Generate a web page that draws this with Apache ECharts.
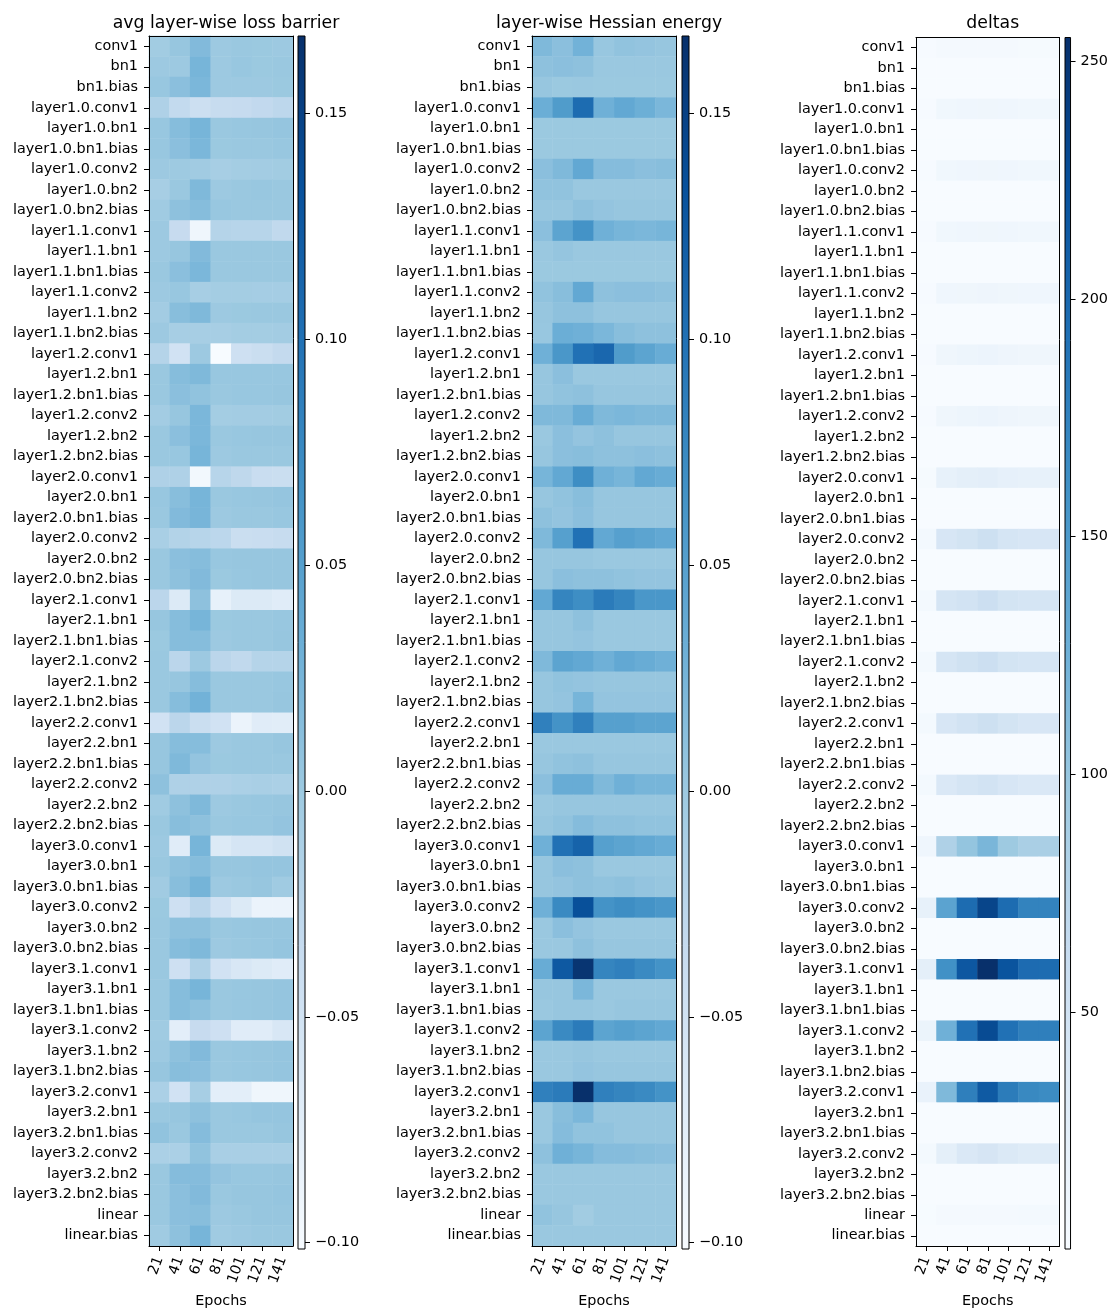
<!DOCTYPE html>
<html>
<head>
<meta charset="utf-8">
<script src="https://cdn.jsdelivr.net/npm/echarts@6/dist/echarts.min.js"></script>
<style>
  html, body { margin: 0; padding: 0; background: #fff; }
  #chart { width: 1111px; height: 1313px; }
</style>
</head>
<body>
<div id="chart"></div>
<script>
// Parameter groups of the network (rows, top to bottom)
const layers = [
  'conv1', 'bn1', 'bn1.bias',
  'layer1.0.conv1', 'layer1.0.bn1', 'layer1.0.bn1.bias', 'layer1.0.conv2', 'layer1.0.bn2', 'layer1.0.bn2.bias',
  'layer1.1.conv1', 'layer1.1.bn1', 'layer1.1.bn1.bias', 'layer1.1.conv2', 'layer1.1.bn2', 'layer1.1.bn2.bias',
  'layer1.2.conv1', 'layer1.2.bn1', 'layer1.2.bn1.bias', 'layer1.2.conv2', 'layer1.2.bn2', 'layer1.2.bn2.bias',
  'layer2.0.conv1', 'layer2.0.bn1', 'layer2.0.bn1.bias', 'layer2.0.conv2', 'layer2.0.bn2', 'layer2.0.bn2.bias',
  'layer2.1.conv1', 'layer2.1.bn1', 'layer2.1.bn1.bias', 'layer2.1.conv2', 'layer2.1.bn2', 'layer2.1.bn2.bias',
  'layer2.2.conv1', 'layer2.2.bn1', 'layer2.2.bn1.bias', 'layer2.2.conv2', 'layer2.2.bn2', 'layer2.2.bn2.bias',
  'layer3.0.conv1', 'layer3.0.bn1', 'layer3.0.bn1.bias', 'layer3.0.conv2', 'layer3.0.bn2', 'layer3.0.bn2.bias',
  'layer3.1.conv1', 'layer3.1.bn1', 'layer3.1.bn1.bias', 'layer3.1.conv2', 'layer3.1.bn2', 'layer3.1.bn2.bias',
  'layer3.2.conv1', 'layer3.2.bn1', 'layer3.2.bn1.bias', 'layer3.2.conv2', 'layer3.2.bn2', 'layer3.2.bn2.bias',
  'linear', 'linear.bias'
];

// Checkpoints (columns)
const epochs = ['21', '41', '61', '81', '101', '121', '141'];

// Average layer-wise loss barrier, one row per parameter group
const lossBarrier = [
  [-0.004, 0.004, 0.018, 0.000, 0.002, 0.001, 0.000],
  [ 0.000, 0.000, 0.025, 0.000, 0.003, 0.001, 0.002],
  [ 0.003, 0.012, 0.022, 0.000, 0.000, 0.000, 0.001],
  [-0.015, -0.032, -0.042, -0.036, -0.034, -0.031, -0.027],
  [ 0.003, 0.015, 0.025, 0.002, 0.003, 0.004, 0.005],
  [ 0.003, 0.012, 0.022, 0.001, 0.002, 0.002, 0.003],
  [ 0.000, -0.001, -0.003, -0.008, -0.006, -0.005, -0.004],
  [-0.008, 0.002, 0.020, 0.000, 0.002, 0.003, 0.002],
  [-0.002, 0.010, 0.015, 0.003, 0.002, 0.002, 0.002],
  [ 0.000, -0.035, -0.090, -0.020, -0.022, -0.022, -0.030],
  [ 0.000, 0.004, 0.018, 0.002, 0.002, 0.002, 0.002],
  [ 0.002, 0.012, 0.022, 0.002, 0.002, 0.002, 0.002],
  [ 0.000, 0.003, -0.008, -0.006, -0.006, -0.007, -0.007],
  [-0.005, 0.014, 0.020, 0.000, 0.001, 0.002, 0.002],
  [ 0.000, -0.008, -0.008, -0.008, -0.006, -0.006, -0.005],
  [-0.020, -0.050, 0.000, -0.1014, -0.045, -0.040, -0.033],
  [ 0.002, 0.015, 0.020, 0.003, 0.003, 0.003, 0.003],
  [ 0.002, 0.012, 0.008, 0.002, 0.003, 0.003, 0.004],
  [-0.005, 0.004, 0.022, -0.006, -0.005, -0.005, -0.004],
  [ 0.002, 0.012, 0.022, 0.002, 0.003, 0.004, 0.004],
  [ 0.002, 0.003, 0.025, 0.000, 0.002, 0.002, 0.002],
  [-0.015, -0.015, -0.095, -0.022, -0.028, -0.038, -0.040],
  [ 0.003, 0.014, 0.025, 0.002, 0.003, 0.004, 0.005],
  [ 0.002, 0.018, 0.024, 0.000, 0.002, 0.002, 0.003],
  [-0.010, -0.018, -0.022, -0.026, -0.040, -0.038, -0.036],
  [ 0.002, 0.012, 0.015, 0.003, 0.004, 0.004, 0.004],
  [ 0.002, 0.010, 0.018, 0.001, 0.003, 0.004, 0.004],
  [-0.025, -0.065, 0.010, -0.080, -0.065, -0.065, -0.070],
  [ 0.004, 0.015, 0.025, 0.001, 0.002, 0.002, 0.003],
  [ 0.001, 0.015, 0.015, 0.000, 0.002, 0.002, 0.004],
  [ 0.002, -0.025, 0.000, -0.025, -0.030, -0.020, -0.020],
  [ 0.002, 0.004, 0.015, 0.002, 0.002, 0.002, 0.003],
  [ 0.002, 0.015, 0.028, 0.002, 0.002, 0.002, 0.004],
  [-0.050, -0.025, -0.040, -0.050, -0.085, -0.070, -0.072],
  [ 0.004, 0.015, 0.015, 0.000, 0.002, 0.002, 0.004],
  [ 0.004, 0.020, 0.006, 0.001, 0.002, 0.002, 0.002],
  [ 0.010, -0.015, -0.015, -0.015, -0.012, -0.010, -0.012],
  [-0.002, 0.010, 0.020, 0.000, 0.002, 0.003, 0.004],
  [ 0.002, 0.014, 0.010, 0.002, 0.003, 0.003, 0.006],
  [ 0.000, -0.070, 0.025, -0.065, -0.055, -0.055, -0.048],
  [ 0.002, 0.010, 0.015, 0.004, 0.004, 0.005, 0.005],
  [-0.003, 0.014, 0.026, 0.000, 0.002, 0.004, -0.002],
  [ 0.001, -0.045, -0.025, -0.050, -0.065, -0.085, -0.085],
  [ 0.002, 0.010, 0.010, 0.002, 0.003, 0.004, 0.004],
  [ 0.002, 0.015, 0.020, 0.000, 0.002, 0.003, 0.005],
  [ 0.002, -0.045, -0.015, -0.050, -0.060, -0.065, -0.070],
  [ 0.002, 0.015, 0.025, 0.002, 0.003, 0.004, 0.005],
  [ 0.002, 0.015, 0.010, 0.002, 0.003, 0.004, 0.005],
  [-0.002, -0.075, -0.035, -0.045, -0.070, -0.070, -0.060],
  [ 0.000, 0.010, 0.018, 0.002, 0.003, 0.004, 0.005],
  [ 0.004, 0.014, 0.012, 0.002, 0.003, 0.004, 0.005],
  [-0.012, -0.050, -0.008, -0.075, -0.075, -0.090, -0.090],
  [ 0.002, 0.004, 0.010, 0.002, 0.003, 0.005, 0.005],
  [ 0.008, 0.002, 0.016, 0.002, 0.002, 0.002, 0.004],
  [-0.012, -0.012, 0.008, -0.010, -0.010, -0.010, -0.010],
  [ 0.002, 0.016, 0.016, 0.006, 0.003, 0.003, 0.004],
  [ 0.002, 0.012, 0.018, 0.002, 0.004, 0.004, 0.005],
  [ 0.002, 0.012, 0.014, 0.000, 0.002, 0.004, 0.004],
  [-0.002, 0.010, 0.025, -0.002, 0.000, 0.002, 0.002]
];

// Layer-wise Hessian energy, one row per parameter group
const hessianEnergy = [
  [0.020, 0.012, 0.028, 0.003, 0.008, 0.006, 0.004],
  [0.010, 0.012, 0.010, 0.002, 0.002, 0.002, 0.002],
  [0.004, 0.001, 0.002, 0.001, 0.001, 0.001, 0.001],
  [0.033, 0.055, 0.105, 0.030, 0.040, 0.032, 0.022],
  [0.001, 0.001, 0.001, 0.001, 0.001, 0.001, 0.001],
  [0.001, 0.001, 0.001, 0.001, 0.001, 0.001, 0.001],
  [0.012, 0.020, 0.040, 0.016, 0.016, 0.012, 0.014],
  [0.008, 0.008, 0.002, 0.002, 0.002, 0.002, 0.002],
  [0.004, 0.004, 0.010, 0.006, 0.004, 0.004, 0.004],
  [0.012, 0.045, 0.065, 0.030, 0.025, 0.022, 0.025],
  [0.002, 0.005, 0.002, 0.002, 0.002, 0.002, 0.002],
  [0.001, 0.001, 0.001, 0.001, 0.001, 0.001, 0.001],
  [0.008, 0.014, 0.040, 0.010, 0.012, 0.012, 0.010],
  [0.004, 0.010, 0.010, 0.004, 0.004, 0.004, 0.004],
  [0.003, 0.033, 0.030, 0.022, 0.014, 0.010, 0.010],
  [0.030, 0.060, 0.100, 0.110, 0.055, 0.045, 0.035],
  [0.004, 0.012, 0.002, 0.002, 0.002, 0.002, 0.002],
  [0.004, 0.008, 0.010, 0.004, 0.004, 0.004, 0.004],
  [0.020, 0.020, 0.035, 0.020, 0.022, 0.020, 0.020],
  [0.002, 0.012, 0.006, 0.010, 0.004, 0.004, 0.004],
  [0.004, 0.012, 0.014, 0.010, 0.010, 0.012, 0.010],
  [0.025, 0.040, 0.070, 0.030, 0.025, 0.040, 0.035],
  [0.004, 0.008, 0.014, 0.004, 0.004, 0.004, 0.004],
  [0.010, 0.006, 0.012, 0.004, 0.004, 0.004, 0.004],
  [0.020, 0.050, 0.100, 0.040, 0.050, 0.045, 0.040],
  [0.004, 0.004, 0.004, 0.002, 0.002, 0.002, 0.002],
  [0.004, 0.012, 0.010, 0.010, 0.008, 0.006, 0.006],
  [0.040, 0.080, 0.070, 0.090, 0.080, 0.060, 0.060],
  [0.004, 0.004, 0.010, 0.002, 0.002, 0.002, 0.002],
  [0.004, 0.004, 0.006, 0.002, 0.002, 0.002, 0.002],
  [0.020, 0.045, 0.040, 0.030, 0.040, 0.035, 0.030],
  [0.004, 0.008, 0.006, 0.004, 0.004, 0.004, 0.004],
  [0.004, 0.006, 0.025, 0.006, 0.006, 0.006, 0.006],
  [0.085, 0.065, 0.085, 0.050, 0.050, 0.045, 0.045],
  [0.002, 0.002, 0.002, 0.002, 0.002, 0.002, 0.002],
  [0.004, 0.008, 0.010, 0.004, 0.004, 0.004, 0.004],
  [0.012, 0.035, 0.035, 0.020, 0.030, 0.025, 0.025],
  [0.002, 0.004, 0.004, 0.004, 0.004, 0.004, 0.004],
  [0.004, 0.008, 0.016, 0.010, 0.010, 0.008, 0.008],
  [0.030, 0.100, 0.115, 0.050, 0.045, 0.040, 0.035],
  [0.004, 0.012, 0.010, 0.002, 0.002, 0.002, 0.002],
  [0.004, 0.006, 0.010, 0.008, 0.010, 0.006, 0.004],
  [0.030, 0.075, 0.135, 0.065, 0.070, 0.065, 0.060],
  [0.002, 0.012, 0.006, 0.002, 0.002, 0.002, 0.002],
  [0.002, 0.002, 0.010, 0.004, 0.004, 0.004, 0.004],
  [0.035, 0.125, 0.162, 0.080, 0.085, 0.075, 0.065],
  [0.004, 0.004, 0.022, 0.002, 0.002, 0.002, 0.002],
  [0.002, 0.004, 0.004, 0.002, 0.004, 0.004, 0.004],
  [0.045, 0.075, 0.090, 0.045, 0.050, 0.045, 0.040],
  [0.002, 0.002, 0.004, 0.002, 0.002, 0.002, 0.002],
  [0.002, 0.002, 0.006, 0.004, 0.004, 0.004, 0.004],
  [0.085, 0.090, 0.1671, 0.085, 0.080, 0.075, 0.065],
  [0.002, 0.014, 0.022, 0.004, 0.004, 0.004, 0.004],
  [0.002, 0.016, 0.008, 0.008, 0.004, 0.004, 0.004],
  [0.010, 0.030, 0.025, 0.016, 0.016, 0.014, 0.012],
  [0.002, 0.002, 0.002, 0.002, 0.002, 0.002, 0.002],
  [0.002, 0.002, 0.002, 0.002, 0.002, 0.002, 0.002],
  [0.008, 0.004, -0.004, 0.002, 0.002, 0.002, 0.002],
  [0.002, 0.002, 0.002, 0.002, 0.002, 0.002, 0.002]
];

// Parameter deltas, one row per parameter group
const deltas = [
  [1.5, 4, 4, 4, 4, 3, 3],
  [0.3, 0.3, 0.3, 0.3, 0.3, 0.3, 0.3],
  [0.2, 0.3, 0.3, 0.3, 0.3, 0.3, 0.3],
  [2, 9, 10, 11, 10, 9, 9],
  [0.4, 0.5, 0.5, 0.5, 0.5, 0.5, 0.5],
  [0.3, 0.4, 0.4, 0.4, 0.4, 0.4, 0.4],
  [2, 9, 10, 11, 10, 9, 9],
  [0.4, 0.5, 0.5, 0.5, 0.5, 0.5, 0.5],
  [0.3, 0.4, 0.4, 0.4, 0.4, 0.4, 0.4],
  [2, 9, 10, 11, 10, 9, 9],
  [0.4, 0.5, 0.5, 0.5, 0.5, 0.5, 0.5],
  [0.3, 0.4, 0.4, 0.4, 0.4, 0.4, 0.4],
  [2, 10, 11, 12, 11, 10, 10],
  [0.4, 0.5, 0.5, 0.5, 0.5, 0.5, 0.5],
  [0.3, 0.4, 0.4, 0.4, 0.4, 0.4, 0.4],
  [2, 11, 13, 14, 12, 11, 11],
  [0.4, 0.5, 0.5, 0.5, 0.5, 0.5, 0.5],
  [0.3, 0.4, 0.4, 0.4, 0.4, 0.4, 0.4],
  [2, 11, 13, 14, 12, 11, 11],
  [0.4, 0.5, 0.5, 0.5, 0.5, 0.5, 0.5],
  [0.3, 0.4, 0.4, 0.4, 0.4, 0.4, 0.4],
  [3, 20, 24, 26, 22, 20, 20],
  [0.4, 0.6, 0.6, 0.6, 0.6, 0.6, 0.6],
  [0.3, 0.4, 0.4, 0.4, 0.4, 0.4, 0.4],
  [5, 42, 46, 54, 44, 42, 42],
  [0.4, 0.6, 0.6, 0.6, 0.6, 0.6, 0.6],
  [0.3, 0.4, 0.4, 0.4, 0.4, 0.4, 0.4],
  [5, 44, 48, 56, 46, 44, 44],
  [0.4, 0.6, 0.6, 0.6, 0.6, 0.6, 0.6],
  [0.3, 0.4, 0.4, 0.4, 0.4, 0.4, 0.4],
  [5, 44, 50, 56, 46, 44, 44],
  [0.4, 0.6, 0.6, 0.6, 0.6, 0.6, 0.6],
  [0.3, 0.4, 0.4, 0.4, 0.4, 0.4, 0.4],
  [5, 42, 48, 54, 46, 42, 42],
  [0.4, 0.6, 0.6, 0.6, 0.6, 0.6, 0.6],
  [0.3, 0.4, 0.4, 0.4, 0.4, 0.4, 0.4],
  [5, 38, 44, 48, 42, 38, 38],
  [0.4, 0.6, 0.6, 0.6, 0.6, 0.6, 0.6],
  [0.3, 0.4, 0.4, 0.4, 0.4, 0.4, 0.4],
  [10, 82, 102, 118, 96, 86, 86],
  [0.5, 0.8, 0.8, 0.8, 0.8, 0.8, 0.8],
  [0.3, 0.5, 0.5, 0.5, 0.5, 0.5, 0.5],
  [20, 140, 196, 235, 196, 174, 174],
  [0.5, 0.8, 0.8, 0.8, 0.8, 0.8, 0.8],
  [0.3, 0.5, 0.5, 0.5, 0.5, 0.5, 0.5],
  [25, 160, 217, 255, 220, 197, 196],
  [0.5, 0.8, 0.8, 0.8, 0.8, 0.8, 0.8],
  [0.3, 0.5, 0.5, 0.5, 0.5, 0.5, 0.5],
  [15, 125, 191, 229, 191, 178, 178],
  [0.5, 0.8, 0.8, 0.8, 0.8, 0.8, 0.8],
  [0.3, 0.5, 0.5, 0.5, 0.5, 0.5, 0.5],
  [18, 115, 178, 214, 181, 168, 165],
  [0.5, 0.8, 0.8, 0.8, 0.8, 0.8, 0.8],
  [0.3, 0.5, 0.5, 0.5, 0.5, 0.5, 0.5],
  [5, 25, 38, 43, 36, 32, 32],
  [0.5, 0.8, 0.8, 0.8, 0.8, 0.8, 0.8],
  [0.3, 0.5, 0.5, 0.5, 0.5, 0.5, 0.5],
  [1, 4, 4, 4, 4, 5, 5],
  [0.3, 0.4, 0.4, 0.4, 0.4, 0.4, 0.4]
];

// Colorbar tick labels
const barrierTicks = [-0.10, -0.05, 0.00, 0.05, 0.10, 0.15];
const deltaTicks = [50, 100, 150, 200, 250];

// Sequential "Blues" palette
const BLUES = ['#f7fbff', '#deebf7', '#c6dbef', '#9ecae1', '#6baed6', '#4292c6', '#2171b5', '#08519c', '#08306b'];

const FONT = 'DejaVu Sans';
const TEXT = '#000';
const LABEL_SIZE = 14.4;

function extentOf(...mats) {
  let lo = Infinity, hi = -Infinity;
  mats.forEach(m => m.forEach(row => row.forEach(v => { lo = Math.min(lo, v); hi = Math.max(hi, v); })));
  return [lo, hi];
}

// The barrier and Hessian panels share one colour scale
const sharedRange = extentOf(lossBarrier, hessianEnergy);
const deltaRange = extentOf(deltas);

const signedFmt = v => v.toFixed(2).replace('-', '\u2212');
const intFmt = v => String(Math.round(v));

const panels = [
  { title: 'avg layer-wise loss barrier', values: lossBarrier, range: sharedRange, ticks: barrierTicks, fmt: signedFmt,
    left: 149, width: 144, top: 36, height: 1213, cbLeft: 298 },
  { title: 'layer-wise Hessian energy', values: hessianEnergy, range: sharedRange, ticks: barrierTicks, fmt: signedFmt,
    left: 532, width: 144, top: 36, height: 1213, cbLeft: 682 },
  { title: 'deltas', values: deltas, range: deltaRange, ticks: deltaTicks, fmt: intFmt,
    left: 916, width: 143.5, top: 37.5, height: 1211.5, cbLeft: 1065 }
];

const grid = [], xAxis = [], yAxis = [], series = [], visualMap = [], title = [];

const frameLine = { show: true, lineStyle: { color: '#000', width: 1 } };

panels.forEach((p, i) => {
  const gHeat = 2 * i, gBar = 2 * i + 1;
  const ax = 3 * i;

  title.push({
    text: p.title,
    left: p.left + p.width / 2,
    top: 10,
    textAlign: 'center',
    textStyle: { fontFamily: FONT, fontSize: 17.3, fontWeight: 'normal', color: TEXT }
  });

  grid.push({ left: p.left, top: p.top, width: p.width, height: p.height });
  grid.push({ left: p.cbLeft, top: p.top, width: 7, height: p.height });

  // heatmap axes: bottom + left carry labels, top + right only close the frame
  xAxis.push({
    type: 'category', gridIndex: gHeat, data: epochs, position: 'bottom', z: 10,
    axisLine: frameLine,
    axisTick: { show: true, alignWithLabel: true, length: 5, lineStyle: { color: '#000' } },
    axisLabel: { rotate: 70, margin: 11, fontFamily: FONT, fontSize: LABEL_SIZE, color: TEXT },
    splitLine: { show: false },
    name: 'Epochs', nameLocation: 'middle', nameGap: 48,
    nameTextStyle: { fontFamily: FONT, fontSize: LABEL_SIZE, color: TEXT }
  });
  xAxis.push({
    type: 'category', gridIndex: gHeat, data: epochs, position: 'top', z: 10,
    axisLine: frameLine, axisTick: { show: false }, axisLabel: { show: false }, splitLine: { show: false }
  });
  xAxis.push({ type: 'category', gridIndex: gBar, data: [''], show: false });

  yAxis.push({
    type: 'category', gridIndex: gHeat, data: layers, inverse: true, position: 'left', z: 10,
    axisLine: frameLine,
    axisTick: { show: true, alignWithLabel: true, length: 5, lineStyle: { color: '#000' } },
    axisLabel: { margin: 11, fontFamily: FONT, fontSize: LABEL_SIZE, color: TEXT, interval: 0 },
    splitLine: { show: false }
  });
  yAxis.push({
    type: 'category', gridIndex: gHeat, data: layers, inverse: true, position: 'right', z: 10,
    axisLine: frameLine, axisTick: { show: false }, axisLabel: { show: false }, splitLine: { show: false }
  });
  yAxis.push({
    type: 'value', gridIndex: gBar, position: 'right', min: p.range[0], max: p.range[1], z: 10,
    axisLine: { show: false },
    axisTick: { show: true, length: 5, customValues: p.ticks, lineStyle: { color: '#000' } },
    axisLabel: { margin: 10, customValues: p.ticks, formatter: p.fmt, fontFamily: FONT, fontSize: LABEL_SIZE, color: TEXT },
    splitLine: { show: false }
  });

  const cells = [];
  p.values.forEach((row, r) => row.forEach((v, c) => cells.push([c, r, v])));

  visualMap.push({
    type: 'continuous', show: false, seriesIndex: series.length, dimension: 2,
    min: p.range[0], max: p.range[1], inRange: { color: BLUES }
  });

  series.push({
    type: 'heatmap', xAxisIndex: ax, yAxisIndex: ax, data: cells,
    silent: true, emphasis: { disabled: true }, itemStyle: { borderWidth: 0 }
  });

  // colorbar: one gradient rect spanning the value range on its own axis
  series.push({
    type: 'custom', xAxisIndex: ax + 2, yAxisIndex: ax + 2, silent: true,
    data: [[0, p.range[0], p.range[1]]],
    encode: { x: 0, y: [1, 2] },
    renderItem: (params, api) => {
      const lo = api.coord([0, api.value(1)]);
      const hi = api.coord([0, api.value(2)]);
      const cs = params.coordSys;
      return {
        type: 'rect',
        shape: { x: cs.x, y: hi[1], width: cs.width, height: lo[1] - hi[1] },
        style: {
          fill: new echarts.graphic.LinearGradient(0, 1, 0, 0,
            BLUES.map((c, k) => ({ offset: k / (BLUES.length - 1), color: c }))),
          stroke: '#000', lineWidth: 1
        }
      };
    }
  });
});

const chart = echarts.init(document.getElementById('chart'), null, { renderer: 'canvas' });
chart.setOption({
  animation: false,
  backgroundColor: '#fff',
  title, grid, xAxis, yAxis, visualMap, series
});
</script>
</body>
</html>
